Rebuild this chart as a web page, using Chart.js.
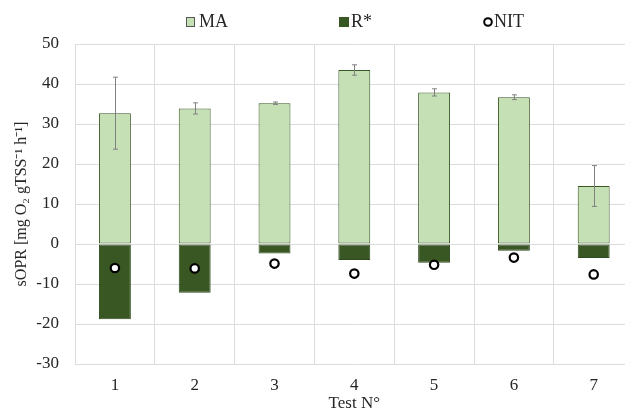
<!DOCTYPE html>
<html>
<head>
<meta charset="utf-8">
<script src="https://cdn.jsdelivr.net/npm/chart.js@4"></script>
<style>
  html, body { margin: 0; padding: 0; background: #fff; overflow: hidden; }
  #wrap { width: 625px; height: 412px; overflow: hidden; }
</style>
</head>
<body>
<div id="wrap"><canvas id="chart" width="640" height="412"></canvas></div>
<script>
// values
const tests = ['1', '2', '3', '4', '5', '6', '7'];
const ma = [32.7, 33.9, 35.2, 43.5, 37.9, 36.7, 14.5];
const maErr = [9.0, 1.4, 0.3, 1.3, 0.9, 0.6, 5.1];
const rStar = [-18.8, -12.2, -2.4, -4.0, -4.7, -1.7, -3.5];
const nit = [-6.0, -6.1, -4.9, -7.4, -5.2, -3.4, -7.6];

const lightGreen = '#c5e0b4';
const darkGreen = '#385723';
const textColor = '#262626';
const serif = '"Liberation Serif", "Times New Roman", serif';

// grey error bars on top of the MA bars
const errorBars = {
  id: 'errorBars',
  afterDatasetsDraw(chart) {
    const meta = chart.getDatasetMeta(0);
    const y = chart.scales.y;
    const ctx = chart.ctx;
    ctx.save();
    ctx.strokeStyle = '#808080';
    ctx.lineWidth = 1;
    meta.data.forEach((bar, i) => {
      const hi = y.getPixelForValue(ma[i] + maErr[i]);
      const lo = y.getPixelForValue(ma[i] - maErr[i]);
      const x = Math.round(bar.x) + 0.5;
      ctx.beginPath();
      ctx.moveTo(x, hi); ctx.lineTo(x, lo);
      ctx.moveTo(x - 2.5, hi); ctx.lineTo(x + 2.5, hi);
      ctx.moveTo(x - 2.5, lo); ctx.lineTo(x + 2.5, lo);
      ctx.stroke();
    });
    ctx.restore();
  }
};

// legend spread out like the original (Excel style)
const legendRow = {
  id: 'legendRow',
  afterDraw(chart) {
    const ctx = chart.ctx;
    const ds = chart.data.datasets;
    ctx.save();
    ctx.font = '18px ' + serif;
    ctx.textBaseline = 'middle';
    const cy = 22;
    // MA
    ctx.fillStyle = ds[0].backgroundColor;
    ctx.fillRect(186, 17, 9, 10);
    ctx.strokeStyle = '#555';
    ctx.lineWidth = 1;
    ctx.strokeRect(186.5, 17.5, 8, 9);
    ctx.fillStyle = textColor;
    ctx.fillText(ds[0].label, 199, cy);
    // R*
    ctx.fillStyle = ds[1].backgroundColor;
    ctx.fillRect(339, 17, 10, 10);
    ctx.fillStyle = textColor;
    ctx.fillText(ds[1].label, 351, cy);
    // NIT
    ctx.beginPath();
    ctx.arc(488, cy, 3.8, 0, Math.PI * 2);
    ctx.fillStyle = '#fff';
    ctx.fill();
    ctx.strokeStyle = '#000';
    ctx.lineWidth = 2;
    ctx.stroke();
    ctx.fillStyle = textColor;
    ctx.fillText(ds[2].label, 494, cy);
    ctx.restore();
  }
};

new Chart(document.getElementById('chart'), {
  type: 'bar',
  data: {
    labels: tests,
    datasets: [
      {
        label: 'MA',
        data: ma,
        backgroundColor: lightGreen,
        borderColor: darkGreen,
        borderWidth: 1,
        borderSkipped: false,
        stack: 'opr',
        order: 2
      },
      {
        label: 'R*',
        data: rStar,
        backgroundColor: darkGreen,
        borderColor: '#2f4a1e',
        borderWidth: 1,
        borderSkipped: false,
        stack: 'opr',
        order: 2
      },
      {
        label: 'NIT',
        type: 'line',
        data: nit,
        showLine: false,
        stack: 'nit',
        pointStyle: 'circle',
        pointRadius: 4.2,
        pointBorderWidth: 2.2,
        pointBackgroundColor: '#fff',
        pointBorderColor: '#000',
        order: 1
      }
    ]
  },
  options: {
    responsive: false,
    animation: false,
    barPercentage: 0.4,
    categoryPercentage: 1.0,
    layout: { padding: { top: 44, bottom: 0, left: 0, right: 0 } },
    plugins: {
      legend: { display: false },
      tooltip: { enabled: false }
    },
    scales: {
      x: {
        stacked: true,
        grid: { color: '#dcdcdc', drawTicks: false, offset: true },
        border: { display: false },
        ticks: { color: textColor, font: { family: serif, size: 17 }, padding: 11 },
        title: {
          display: true,
          text: 'Test N°',
          color: textColor,
          font: { family: serif, size: 17, lineHeight: 1 },
          padding: { top: 0, bottom: 0 }
        },
        afterFit(scale) { scale.height = 48; }
      },
      y: {
        stacked: true,
        min: -30,
        max: 50,
        grid: { color: '#dcdcdc', drawTicks: false },
        border: { display: false },
        ticks: { stepSize: 10, color: textColor, font: { family: serif, size: 17 }, padding: 16 },
        title: {
          display: true,
          text: 'sOPR [mg O₂ gTSS⁻¹ h⁻¹]',
          color: textColor,
          font: { family: serif, size: 16 },
          padding: { top: 12, bottom: 0 }
        },
        afterFit(scale) { scale.width = 75; }
      }
    }
  },
  plugins: [errorBars, legendRow]
});
</script>
</body>
</html>
